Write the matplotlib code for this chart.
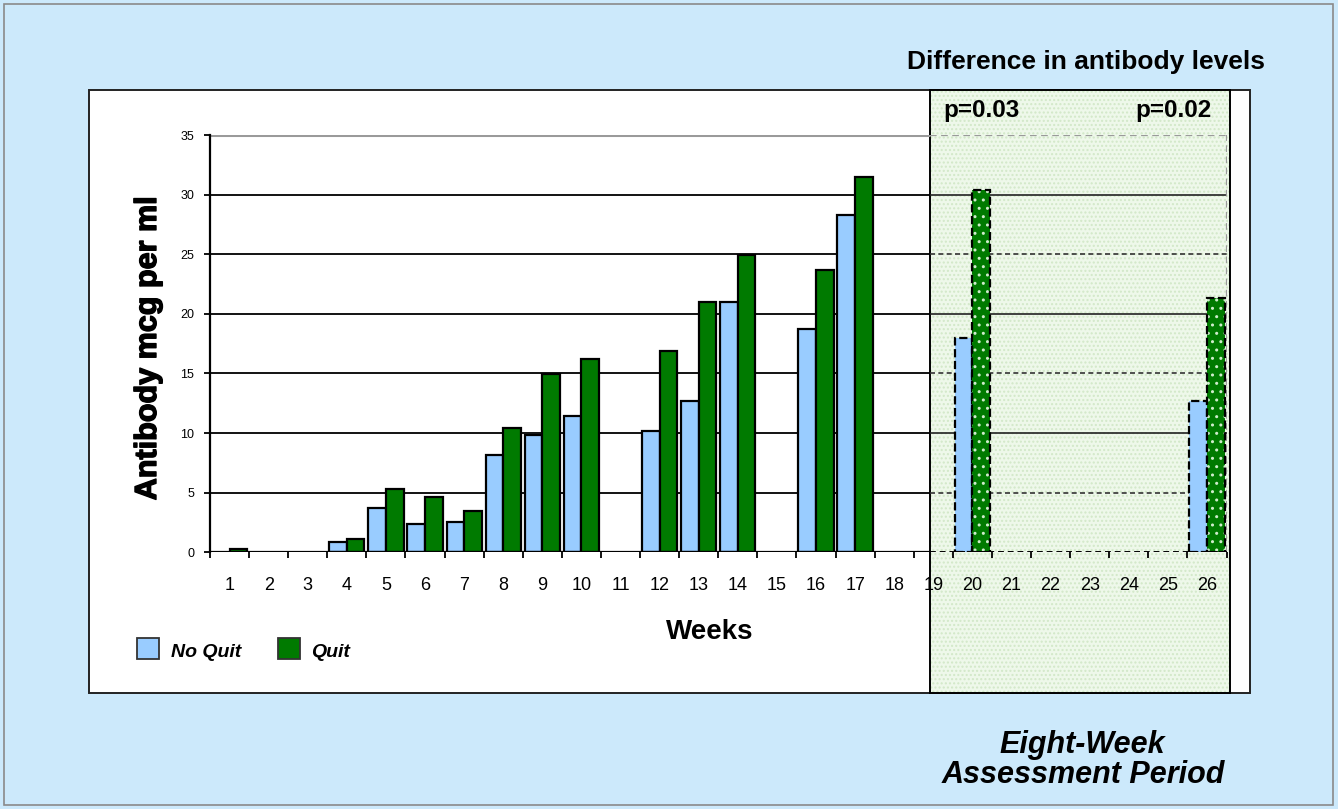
import matplotlib
matplotlib.use('Agg')
import matplotlib.pyplot as plt
import numpy as np
from matplotlib.patches import Rectangle
import matplotlib.patheffects as pe

# ---------------- data ----------------
week_labels = [str(i) for i in range(1, 27)]
weeks = [1, 4, 5, 6, 7, 8, 9, 10, 12, 13, 14, 16, 17, 20, 26]
no_quit = [0.0, 0.9, 3.7, 2.35, 2.5, 8.2, 9.8, 11.4, 10.2, 12.7, 21.0, 18.7, 28.3, 18.0, 12.7]
quit = [0.25, 1.1, 5.35, 4.65, 3.45, 10.4, 14.95, 16.2, 16.9, 21.0, 24.9, 23.7, 31.5, 30.4, 21.3]
y_ticks = [0, 5, 10, 15, 20, 25, 30, 35]
p_values = ['p=0.03', 'p=0.02']
series_names = ['No Quit', 'Quit']

# ---------------- style ----------------
W, H = 1338, 809
BG = '#cce9fb'
BLUE = '#99ccff'
GREEN = '#007a00'
plt.rcParams['font.family'] = ['Liberation Sans', 'DejaVu Sans']
plt.rcParams['hatch.linewidth'] = 1.0

fig = plt.figure(figsize=(W / 100, H / 100), dpi=100)
fig.patch.set_facecolor(BG)


def fx(x):
    return x / W


def fy(y):
    return 1 - y / H


def frect(x0, y0, x1, y1, **kw):
    r = Rectangle((fx(x0), fy(y1)), fx(x1) - fx(x0), fy(y0) - fy(y1),
                  transform=fig.transFigure, **kw)
    fig.add_artist(r)
    return r


# outer frame, white panel, green assessment box
frect(4, 4, 1333, 805, fill=False, edgecolor='#8a8a8a', lw=1.2, zorder=-5)
frect(89, 90, 1250, 693, facecolor='white', edgecolor='#222222', lw=1.4, zorder=-4)
frect(930, 90, 1230, 693, facecolor='#eef8ea', edgecolor='none', zorder=-3)
frect(930, 90, 1230, 693, facecolor='none', edgecolor='#d2e8c8', hatch='....', lw=0, zorder=-2.5)
frect(930, 90, 1230, 693, fill=False, edgecolor='black', lw=1.4, zorder=-2)

# ---------------- axes ----------------
ax = fig.add_axes([fx(210), fy(552.3), fx(1226.5) - fx(210), fy(135) - fy(552.3)])
ax.patch.set_visible(False)
ax.set_xlim(0.5, len(week_labels) + 0.5)
ax.set_ylim(y_ticks[0], y_ticks[-1])
for s in ['top', 'right', 'bottom']:
    ax.spines[s].set_visible(False)
ax.spines['left'].set_color('black')
ax.spines['left'].set_linewidth(1.6)

# data x of the box's left edge
box_x = ax.transData.inverted().transform(fig.transFigure.transform((fx(930), 0.5)))[0]
x_lo, x_hi = ax.get_xlim()

dash = (0, (3, 2))
for v in y_ticks[1:-1]:
    ax.hlines(v, x_lo, box_x, color='black', lw=1.3, zorder=1)
    if v % 10 == 0:
        ax.hlines(v, box_x, x_hi, color='#222222', lw=1.2, zorder=1)
    else:
        ax.hlines(v, box_x, x_hi, color='#333333', lw=1.2, linestyle=dash, zorder=1)
ax.hlines(y_ticks[-1], x_lo, box_x, color='#9a9a9a', lw=2.2, zorder=1)
ax.hlines(y_ticks[-1], box_x, x_hi, color='#9a9a9a', lw=1.6, linestyle=dash, zorder=1)
ax.vlines(x_hi, y_ticks[0], y_ticks[-1], color='#9a9a9a', lw=1.6, linestyle=dash, zorder=1)
ax.hlines(0, x_lo, box_x, color='black', lw=1.6, zorder=5)
ax.hlines(0, box_x, x_hi, color='black', lw=1.4, linestyle=dash, zorder=5)

# ---------------- bars ----------------
bw = 0.45
off = 0.225
for wk, nq, q in zip(weeks, no_quit, quit):
    in_box = wk > box_x
    ls = '--' if in_box else '-'
    if nq > 0:
        ax.bar(wk - off, nq, bw, color=BLUE, edgecolor='black', lw=1.6,
               linestyle=ls, zorder=3)
    if q > 0:
        if in_box:
            ax.bar(wk + off, q, bw, color=GREEN, edgecolor='#cfeccc', hatch='..',
                   lw=0, zorder=3)
            ax.bar(wk + off, q, bw, fill=False, edgecolor='black', lw=1.6,
                   linestyle='--', zorder=4)
        else:
            ax.bar(wk + off, q, bw, color=GREEN, edgecolor='black', lw=1.6, zorder=3)

# ---------------- ticks ----------------
ax.set_xticks(np.arange(x_lo, x_hi + 0.01, 1.0))
ax.set_xticklabels([])
ax.set_xticks(np.arange(1, len(week_labels) + 1), minor=True)
ax.set_xticklabels(week_labels, minor=True, fontsize=13)
ax.tick_params(axis='x', which='major', direction='out', length=4, width=1.3, color='black')
ax.tick_params(axis='x', which='minor', length=0, pad=18)
ax.set_yticks(y_ticks)
ax.set_yticklabels([str(v) for v in y_ticks], fontsize=9)
ax.tick_params(axis='y', direction='out', length=4.3, width=1.3, pad=7)

# ---------------- texts ----------------
fig.text(fx(148), fy(348.5), 'Antibody mcg per ml', rotation=90, ha='center', va='center',
         fontsize=22, fontweight='bold',
         path_effects=[pe.withStroke(linewidth=1.0, foreground='black')])
fig.text(fx(710), fy(639), 'Weeks', ha='center', va='baseline', fontsize=20, fontweight='bold')

# legend
frect(137, 638, 159, 659, facecolor=BLUE, edgecolor='#333333', lw=1.3, zorder=2)
fig.text(fx(171), fy(657), series_names[0], ha='left', va='baseline', fontsize=14,
         fontweight='bold', style='italic')
frect(278, 638, 300, 659, facecolor=GREEN, edgecolor='#333333', lw=1.3, zorder=2)
fig.text(fx(311), fy(657), series_names[1], ha='left', va='baseline', fontsize=14,
         fontweight='bold', style='italic')

fig.text(fx(1086), fy(69), 'Difference in antibody levels', ha='center', va='baseline',
         fontsize=19, fontweight='bold')
fig.text(fx(943), fy(117), p_values[0], ha='left', va='baseline', fontsize=17.5, fontweight='bold')
fig.text(fx(1135), fy(117), p_values[1], ha='left', va='baseline', fontsize=17.5, fontweight='bold')

fig.text(fx(1082), fy(753), 'Eight-Week', ha='center', va='baseline', fontsize=22,
         fontweight='bold', style='italic')
fig.text(fx(1083), fy(783), 'Assessment Period', ha='center', va='baseline', fontsize=22,
         fontweight='bold', style='italic')

fig.savefig('out.png', dpi=100, facecolor=BG)
